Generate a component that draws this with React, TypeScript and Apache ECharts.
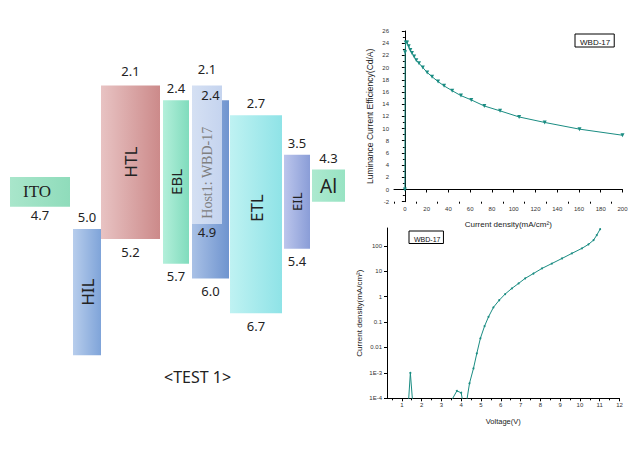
import React, { useEffect, useRef } from "react";
import * as echarts from "echarts";

// ---------- Energy level diagram data ----------
const layerNames = ["ITO", "HIL", "HTL", "EBL", "WBD-17", "Host1: WBD-17", "ETL", "EIL", "Al"];
const layerTop = [3.95, 5.0, 2.1, 2.4, 2.4, 2.1, 2.7, 3.5, 3.8]; // LUMO side (eV)
const layerBottom = [4.55, 7.55, 5.2, 5.7, 6.0, 4.9, 6.7, 5.4, 4.45]; // HOMO side (eV)
const topLabels = ["", "5.0", "2.1", "2.4", "2.4", "2.1", "2.7", "3.5", "4.3"];
const bottomLabels = ["4.7", "", "5.2", "5.7", "6.0", "4.9", "6.7", "5.4", ""];

// ---------- Current efficiency vs current density ----------
const effCurrentDensity = [0, 0.2, 0.8, 2, 3.5, 5, 6.5, 8.5, 10.5, 13, 16.5, 20.5, 25, 30.5, 36, 43.5, 51.5, 61, 73, 87.5, 105, 128.5, 160.5, 200];
const effValues = [0, 22.5, 24.1, 24.1, 23.5, 22.9, 22.4, 21.8, 21.2, 20.7, 20.0, 19.2, 18.5, 17.7, 17.0, 16.2, 15.4, 14.7, 13.7, 12.9, 11.9, 11.0, 9.9, 8.9];
const effXTicks = [0, 20, 40, 60, 80, 100, 120, 140, 160, 180, 200];

// ---------- J-V ----------
const jvVoltage = [1.34, 1.43, 1.54, 2.5, 3.5, 3.78, 4.0, 4.07, 4.2, 4.28, 4.42, 4.62, 4.79, 4.97, 5.18, 5.38, 5.63, 5.92, 6.22, 6.56, 6.9, 7.23, 7.65, 8.08, 8.58, 9.09, 9.59, 10.1, 10.43, 10.69, 10.85, 11.02];
const jvCurrent = [8e-5, 1e-3, 8e-5, null, 8e-5, 1.95e-4, 1.65e-4, 8e-5, null, 8e-5, 3.9e-4, 1.5e-3, 5.9e-3, 0.023, 0.069, 0.16, 0.38, 0.72, 1.26, 2.1, 3.3, 5.2, 8.1, 12.8, 20, 31.6, 50, 79, 113, 167, 262, 450];
const jvXTicks = [1, 2, 3, 4, 5, 6, 7, 8, 9, 10, 11, 12];
const jvYTicks = [1e-4, 1e-3, 0.01, 0.1, 1, 10, 100];
const jvYTickLabels = ["1E-4", "1E-3", "0.01", "0.1", "1", "10", "100"];

// ---------- layout / styles (not data) ----------
const layerSpans = [[10, 70], [73, 101], [101, 160], [163, 189], [192, 229], [192, 222], [230, 282], [284, 310], [312, 345]];
const topLabelGap = [12, 12, 14, 12, 5, 16, 12, 12, 12];
const bottomLabelGap = [8, 12, 13, 12, 12, 8, 13, 12, 12];
const layerColors = [
  ["#a9e6cb", "#8fdcbb"],
  ["#b7cdec", "#7fa4d9"],
  ["#e8c3c3", "#cc8a8a"],
  ["#b3efda", "#80dcbd"],
  ["#a9c1e6", "#6f94cf"],
  ["#d5e0f3", "#c5d4ef"],
  ["#bff2f2", "#8fe3e7"],
  ["#bcc6ec", "#8a9dd7"],
  ["#ace9cf", "#98e3c3"],
];
const nameStyles = [
  { show: true, rotate: false, size: 17, font: "Liberation Serif", color: "#222", dx: -3, dy: 0 },
  { show: true, rotate: true, size: 17, font: "Noto Sans", color: "#222", dx: 0, dy: 0 },
  { show: true, rotate: true, size: 17, font: "Noto Sans", color: "#222", dx: 0, dy: 0 },
  { show: true, rotate: true, size: 15, font: "Noto Sans", color: "#222", dx: 0, dy: 0 },
  { show: false, rotate: true, size: 14, font: "Noto Sans", color: "#222", dx: 0, dy: 0 },
  { show: true, rotate: true, size: 14, font: "Liberation Serif", color: "#808080", dx: 0, dy: 18 },
  { show: true, rotate: true, size: 17, font: "Noto Sans", color: "#222", dx: 0, dy: -6 },
  { show: true, rotate: true, size: 13, font: "Noto Sans", color: "#222", dx: 0, dy: 0 },
  { show: true, rotate: false, size: 19, font: "Noto Sans", color: "#222", dx: 0, dy: 0 },
];

const TEAL = "#1a8c82";
const tickFont = { fontSize: 6, color: "#333", fontFamily: "Liberation Sans" };

export default function App() {
  const ref = useRef<HTMLDivElement>(null);
  useEffect(() => {
    if (!ref.current) return;
    const chart = echarts.init(ref.current, undefined, { renderer: "svg" });

    const layerData = layerNames.map((n, i) => ({
      name: n,
      value: [layerSpans[i][0], layerSpans[i][1], layerTop[i], layerBottom[i]],
    }));

    const minorEff: number[] = [];
    for (let v = -10; v <= 200; v += 20) minorEff.push(v);
    const minorJv: number[] = [];
    for (let v = 0.5; v <= 11.5; v += 1) minorJv.push(v);

    const option: any = {
      animation: false,
      backgroundColor: "#fff",
      grid: [
        { left: 0, top: 31, width: 345, height: 346.5 },
        { left: 394, top: 31, width: 228.5, height: 170.7 },
        { left: 387, top: 228, width: 232.5, height: 170.3 },
      ],
      xAxis: [
        { gridIndex: 0, type: "value", min: 0, max: 345, show: false },
        {
          gridIndex: 1, type: "value", min: -10, max: 200, position: "bottom",
          axisLine: { lineStyle: { color: "#000", width: 1 } },
          axisTick: { customValues: effXTicks, length: 3, lineStyle: { color: "#000" } },
          axisLabel: { customValues: effXTicks, margin: 4, ...tickFont },
          splitLine: { show: false },
          name: "Current density(mA/cm²)", nameLocation: "middle", nameGap: 19,
          nameTextStyle: { fontSize: 8, color: "#222", fontFamily: "Liberation Sans" },
        },
        {
          gridIndex: 1, type: "value", min: -10, max: 200, position: "bottom",
          axisLine: { show: false },
          axisTick: { customValues: minorEff, length: 2, lineStyle: { color: "#000" } },
          axisLabel: { show: false }, splitLine: { show: false },
        },
        {
          gridIndex: 2, type: "value", min: 0.25, max: 12, position: "bottom",
          axisLine: { lineStyle: { color: "#000", width: 1 } },
          axisTick: { customValues: jvXTicks, length: 3, lineStyle: { color: "#000" } },
          axisLabel: { customValues: jvXTicks, margin: 4, ...tickFont },
          splitLine: { show: false },
          name: "Voltage(V)", nameLocation: "middle", nameGap: 19,
          nameTextStyle: { fontSize: 7.5, color: "#222", fontFamily: "Liberation Sans" },
        },
        {
          gridIndex: 2, type: "value", min: 0.25, max: 12, position: "bottom",
          axisLine: { show: false },
          axisTick: { customValues: minorJv, length: 2, lineStyle: { color: "#000" } },
          axisLabel: { show: false }, splitLine: { show: false },
        },
      ],
      yAxis: [
        { gridIndex: 0, type: "value", min: 1, max: 8, inverse: true, show: false },
        {
          gridIndex: 1, type: "value", min: -2, max: 26, interval: 2,
          axisLine: { show: true, lineStyle: { color: "#000", width: 1 } },
          axisTick: { show: true, length: 3, lineStyle: { color: "#000" } },
          minorTick: { show: true, splitNumber: 2, length: 2, lineStyle: { color: "#000" } },
          axisLabel: { margin: 5, ...tickFont },
          splitLine: { show: false },
          name: "Luminance Current Efficiency(Cd/A)", nameLocation: "middle", nameGap: 20,
          nameTextStyle: { fontSize: 8.5, color: "#222", fontFamily: "Liberation Sans" },
        },
        {
          gridIndex: 2, type: "log", logBase: 10, min: 1e-4, max: 500,
          axisLine: { show: true, lineStyle: { color: "#000", width: 1 } },
          axisTick: { show: true, customValues: jvYTicks, length: 3, lineStyle: { color: "#000" } },
          axisLabel: {
            customValues: jvYTicks, margin: 5, ...tickFont,
            formatter: (v: number) => {
              const idx = jvYTicks.findIndex((t) => Math.abs(Math.log10(t) - Math.log10(v)) < 1e-6);
              return idx >= 0 ? jvYTickLabels[idx] : "";
            },
          },
          splitLine: { show: false },
          name: "Current density(mA/cm²)", nameLocation: "middle", nameGap: 24,
          nameTextStyle: { fontSize: 8, color: "#222", fontFamily: "Liberation Sans" },
        },
      ],
      legend: [
        {
          data: ["WBD-17"], left: 575, top: 34, icon: "none", itemWidth: 0, itemGap: 0,
          padding: [1, 4, 1, 0], borderColor: "#000", borderWidth: 1, selectedMode: false,
          textStyle: { fontSize: 8, color: "#111", fontFamily: "Liberation Sans" },
        },
        {
          data: ["WBD-17"], left: 409, top: 231, icon: "none", itemWidth: 0, itemGap: 0,
          padding: [1, 3, 1, 0], borderColor: "#000", borderWidth: 1, selectedMode: false,
          textStyle: { fontSize: 7, color: "#111", fontFamily: "Liberation Sans" },
        },
      ],
      graphic: [
        {
          type: "text", left: 164, top: 369,
          style: { text: "<TEST 1>", fontSize: 16, fill: "#222", fontFamily: "Noto Sans" },
        },
      ],
      series: [
        {
          type: "custom", name: "levels", xAxisIndex: 0, yAxisIndex: 0,
          data: layerData,
          renderItem: (params: any, api: any) => {
            const i = params.dataIndex;
            const p0 = api.coord([api.value(0), api.value(2)]);
            const p1 = api.coord([api.value(1), api.value(3)]);
            const w = p1[0] - p0[0];
            const h = p1[1] - p0[1];
            const cx = (p0[0] + p1[0]) / 2;
            const cy = (p0[1] + p1[1]) / 2;
            const c = layerColors[i];
            const ns = nameStyles[i];
            const children: any[] = [
              {
                type: "rect",
                z2: 1,
                shape: { x: p0[0], y: p0[1], width: w, height: h },
                style: {
                  fill: new echarts.graphic.LinearGradient(0, 0, 1, 0, [
                    { offset: 0, color: c[0] },
                    { offset: 1, color: c[1] },
                  ]),
                },
              },
            ];
            if (ns.show) {
              children.push({
                type: "text",
                z2: 20,
                x: cx + ns.dx,
                y: cy + ns.dy,
                rotation: ns.rotate ? Math.PI / 2 : 0,
                style: {
                  text: layerNames[i], fontSize: ns.size, fontFamily: ns.font, fill: ns.color,
                  align: "center", verticalAlign: "middle",
                },
              });
            }
            if (topLabels[i]) {
              children.push({
                type: "text", z2: 20, x: cx, y: p0[1] - topLabelGap[i],
                style: { text: topLabels[i], fontSize: 13, fontFamily: "Noto Sans", fill: "#222", align: "center", verticalAlign: "middle" },
              });
            }
            if (bottomLabels[i]) {
              children.push({
                type: "text", z2: 20, x: cx, y: p1[1] + bottomLabelGap[i],
                style: { text: bottomLabels[i], fontSize: 13, fontFamily: "Noto Sans", fill: "#222", align: "center", verticalAlign: "middle" },
              });
            }
            return { type: "group", children };
          },
        },
        {
          type: "line", name: "WBD-17", xAxisIndex: 1, yAxisIndex: 1,
          data: effCurrentDensity.map((x, i) => [x, effValues[i]]),
          symbol: "triangle", symbolRotate: 180, symbolSize: 4,
          lineStyle: { color: TEAL, width: 1 },
          itemStyle: { color: TEAL },
        },
        {
          type: "line", name: "WBD-17", xAxisIndex: 3, yAxisIndex: 2,
          data: jvVoltage.map((x, i) => [x, jvCurrent[i] === null ? "-" : jvCurrent[i]]),
          symbol: "circle", symbolSize: 2, clip: true,
          lineStyle: { color: TEAL, width: 1 },
          itemStyle: { color: TEAL },
        },
      ],
    };
    chart.setOption(option);
    return () => chart.dispose();
  }, []);
  return (
    <div
      ref={ref}
      style={{ position: "absolute", left: 0, top: 0, width: 642, height: 451, background: "#fff" }}
    />
  );
}
